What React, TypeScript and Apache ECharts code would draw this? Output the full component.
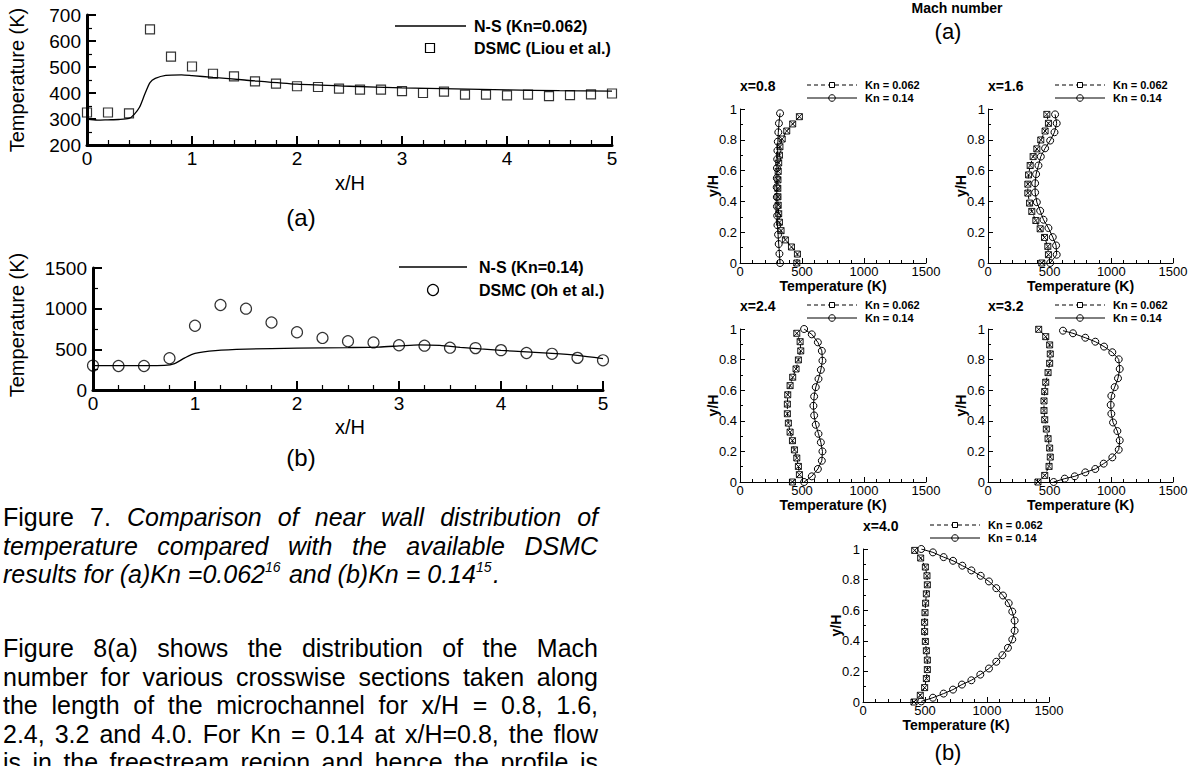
import React, { useEffect, useRef } from "react";
import * as echarts from "echarts";

const FONT = "'Liberation Sans', Arial, Helvetica, sans-serif";

// ---------- Figure 7(a): near-wall temperature, Kn = 0.062 ----------
const A_DSMC_X = [0, 0.2, 0.4, 0.6, 0.8, 1.0, 1.2, 1.4, 1.6, 1.8, 2.0, 2.2, 2.4, 2.6, 2.8, 3.0, 3.2, 3.4, 3.6, 3.8, 4.0, 4.2, 4.4, 4.6, 4.8, 5.0];
const A_DSMC_T = [325, 325, 322, 645, 540, 502, 474, 464, 445, 436, 426, 423, 417, 413, 413, 407, 400, 405, 394, 394, 391, 394, 388, 392, 395, 398];
const A_NS_X = [0, 0.1, 0.2, 0.3, 0.4, 0.45, 0.5, 0.55, 0.6, 0.65, 0.75, 0.9, 1.0, 1.2, 1.5, 2.0, 2.5, 3.0, 3.5, 4.0, 4.5, 5.0];
const A_NS_T = [300, 296, 297, 298, 302, 318, 345, 395, 440, 456, 468, 470, 467, 460, 450, 434, 426, 420, 416, 412, 409, 407];

// ---------- Figure 7(b): near-wall temperature, Kn = 0.14 ----------
const B_DSMC_X = [0, 0.25, 0.5, 0.75, 1.0, 1.25, 1.5, 1.75, 2.0, 2.25, 2.5, 2.75, 3.0, 3.25, 3.5, 3.75, 4.0, 4.25, 4.5, 4.75, 5.0];
const B_DSMC_T = [300, 295, 295, 390, 790, 1045, 1000, 830, 710, 640, 600, 585, 550, 545, 520, 515, 490, 455, 445, 395, 365];
const B_NS_X = [0, 0.5, 0.7, 0.8, 0.9, 1.0, 1.2, 1.5, 2.0, 2.5, 2.8, 3.0, 3.2, 3.4, 3.6, 3.8, 4.0, 4.25, 4.5, 4.75, 5.0];
const B_NS_T = [300, 300, 303, 325, 395, 450, 485, 503, 515, 522, 528, 542, 556, 548, 525, 505, 487, 468, 450, 425, 385];

// ---------- Figure 8(b): temperature profiles across the channel ----------
const P08_KN062_T = [458, 463, 415, 366, 331, 318, 312, 308, 306, 305, 306, 308, 312, 318, 322, 340, 377, 425, 479];
const P08_KN062_Y = [0, 0.058, 0.104, 0.15, 0.21, 0.265, 0.32, 0.375, 0.43, 0.485, 0.54, 0.595, 0.65, 0.7, 0.755, 0.805, 0.857, 0.903, 0.95];
const P08_KN014_T = [323, 318, 312, 307, 302, 300, 298, 297, 296, 297, 298, 300, 302, 305, 309, 314, 323];
const P08_KN014_Y = [0, 0.06, 0.123, 0.184, 0.246, 0.307, 0.367, 0.428, 0.492, 0.551, 0.616, 0.674, 0.73, 0.788, 0.849, 0.907, 0.972];

const P16_KN062_T = [436, 490, 485, 458, 423, 388, 355, 337, 323, 323, 329, 342, 366, 396, 428, 463, 490, 477];
const P16_KN062_Y = [0, 0.054, 0.108, 0.166, 0.222, 0.276, 0.335, 0.389, 0.454, 0.512, 0.572, 0.633, 0.691, 0.741, 0.799, 0.857, 0.907, 0.965];
const P16_KN014_T = [504, 557, 552, 525, 490, 450, 423, 396, 382, 382, 390, 409, 428, 463, 504, 539, 557, 544];
const P16_KN014_Y = [0, 0.054, 0.114, 0.168, 0.227, 0.281, 0.339, 0.395, 0.458, 0.518, 0.577, 0.633, 0.691, 0.745, 0.795, 0.849, 0.907, 0.965];

const P24_KN062_T = [423, 479, 471, 458, 439, 423, 404, 390, 382, 382, 385, 404, 425, 452, 471, 490, 485, 458];
const P24_KN062_Y = [0, 0.048, 0.102, 0.157, 0.21, 0.27, 0.326, 0.385, 0.446, 0.509, 0.57, 0.63, 0.685, 0.739, 0.798, 0.857, 0.917, 0.972];
const P24_KN014_T = [517, 579, 628, 660, 665, 652, 633, 611, 598, 592, 598, 611, 633, 652, 665, 660, 628, 579, 517];
const P24_KN014_Y = [0, 0.037, 0.085, 0.139, 0.2, 0.259, 0.315, 0.374, 0.435, 0.498, 0.559, 0.62, 0.674, 0.733, 0.793, 0.857, 0.913, 0.965, 1.0];

const P32_KN062_T = [405, 460, 495, 505, 500, 487, 473, 460, 454, 454, 460, 468, 487, 500, 505, 500, 468, 411];
const P32_KN062_Y = [0, 0.043, 0.102, 0.163, 0.222, 0.283, 0.346, 0.407, 0.467, 0.53, 0.591, 0.652, 0.715, 0.776, 0.837, 0.896, 0.95, 0.998];
const P32_KN014_T = [532, 622, 703, 789, 870, 938, 1008, 1060, 1068, 1049, 1014, 1000, 995, 1000, 1027, 1054, 1068, 1060, 1008, 941, 870, 789, 689, 608];
const P32_KN014_Y = [0, 0.022, 0.037, 0.063, 0.085, 0.12, 0.161, 0.211, 0.272, 0.333, 0.389, 0.446, 0.504, 0.563, 0.62, 0.678, 0.739, 0.802, 0.848, 0.885, 0.917, 0.943, 0.972, 0.989];

const P40_KN062_T = [411, 462, 497, 511, 519, 519, 511, 503, 497, 497, 500, 505, 511, 519, 516, 503, 465, 417];
const P40_KN062_Y = [0, 0.044, 0.094, 0.153, 0.212, 0.274, 0.335, 0.396, 0.46, 0.521, 0.584, 0.646, 0.707, 0.766, 0.825, 0.882, 0.941, 0.991];
const P40_KN014_T = [470, 564, 650, 726, 798, 874, 946, 1016, 1075, 1124, 1169, 1204, 1223, 1223, 1204, 1175, 1129, 1075, 1016, 949, 874, 801, 726, 650, 564, 470];
const P40_KN014_Y = [0.004, 0.028, 0.055, 0.081, 0.114, 0.142, 0.179, 0.219, 0.263, 0.306, 0.354, 0.409, 0.466, 0.532, 0.591, 0.646, 0.696, 0.744, 0.788, 0.825, 0.86, 0.891, 0.923, 0.947, 0.978, 1.0];

const PANEL_TITLES = ["x=0.8", "x=1.6", "x=2.4", "x=3.2", "x=4.0"];
const LEGEND_KN = ["Kn = 0.062", "Kn = 0.14"];

// ---------- page text ----------
type Seg = { t: string; it?: boolean; sup?: boolean };
const CAP_L1: Seg[] = [{ t: "Figure 7." }, { t: "Comparison of near wall distribution of", it: true }];
const CAP_L2: Seg[] = [{ t: "temperature compared with the available DSMC", it: true }];
const CAP_L3: Seg[] = [
  { t: "results for (a)Kn =0.062", it: true },
  { t: "16", it: true, sup: true },
  { t: " and (b)Kn = 0.14", it: true },
  { t: "15", it: true, sup: true },
  { t: ".", it: true },
];
const BODY_LINES = [
  "Figure 8(a) shows the distribution of the Mach",
  "number for various crosswise sections taken along",
  "the length of the microchannel for x/H = 0.8, 1.6,",
  "2.4, 3.2 and 4.0. For Kn = 0.14 at x/H=0.8, the flow",
  "is in the freestream region and hence the profile is",
];

const zip = (a: number[], b: number[]) => a.map((v, i) => [v, b[i]]);
const plain = (v: number) => String(v);
const HATCHED_SQUARE = "path://M0 0H10V10H0Z M0 0L10 10 M10 0L0 10";

function txt(text: string, x: number, y: number, o: any = {}) {
  const align = o.align || "left";
  const va = o.va || "middle";
  return {
    type: "text",
    x,
    y,
    z: 20,
    silent: true,
    rotation: o.rot || 0,
    style: {
      text,
      fill: "#000",
      fontFamily: FONT,
      fontSize: o.size || 14,
      fontWeight: o.bold ? "bold" : "normal",
      fontStyle: o.it ? "italic" : "normal",
      textAlign: align,
      textVerticalAlign: va,
      align,
      verticalAlign: va,
    },
  };
}

function buildOption() {
  const ctx = document.createElement("canvas").getContext("2d")!;
  const measure = (s: string, it: boolean | undefined, size: number, bold = false) => {
    ctx.font = `${it ? "italic " : ""}${bold ? "bold " : ""}${size}px ${FONT}`;
    return ctx.measureText(s).width;
  };

  const grids: any[] = [];
  const xAxes: any[] = [];
  const yAxes: any[] = [];
  const series: any[] = [];
  const graphics: any[] = [];

  // ----- left big plots -----
  const bigAxisCommon = (fs: number) => ({
    type: "value",
    axisLine: { onZero: false, lineStyle: { color: "#000", width: 3 } },
    axisTick: { inside: true, length: 9, lineStyle: { color: "#000", width: 2 } },
    splitLine: { show: false },
    minorSplitLine: { show: false },
    axisLabel: { color: "#000", fontSize: fs, fontFamily: FONT, formatter: plain },
  });

  const bigPlots = [
    { left: 87, top: 15, w: 525, h: 130, ymin: 200, ymax: 700, yint: 100, xminor: 5, yminor: 2 },
    { left: 93, top: 268, w: 510, h: 122, ymin: 0, ymax: 1500, yint: 500, xminor: 4, yminor: 2 },
  ];
  bigPlots.forEach((p, i) => {
    grids.push({ left: p.left, top: p.top, width: p.w, height: p.h, outerBoundsMode: "none" });
    const c = bigAxisCommon(19);
    xAxes.push({
      ...c,
      gridIndex: i,
      min: 0,
      max: 5,
      interval: 1,
      minorTick: { show: true, splitNumber: p.xminor, length: 5, lineStyle: { color: "#000", width: 1.2 } },
      axisLabel: { ...c.axisLabel, margin: 4 },
    });
    yAxes.push({
      ...c,
      gridIndex: i,
      min: p.ymin,
      max: p.ymax,
      interval: p.yint,
      minorTick: { show: true, splitNumber: p.yminor, length: 5, lineStyle: { color: "#000", width: 1.2 } },
      axisLabel: { ...c.axisLabel, margin: 6 },
    });
  });

  series.push({
    type: "line", xAxisIndex: 0, yAxisIndex: 0, data: zip(A_NS_X, A_NS_T), smooth: 0.25, symbol: "none",
    lineStyle: { color: "#000", width: 1.3 }, silent: true, z: 2,
  });
  series.push({
    type: "scatter", xAxisIndex: 0, yAxisIndex: 0, data: zip(A_DSMC_X, A_DSMC_T), symbol: "rect", symbolSize: 9,
    itemStyle: { color: "rgba(0,0,0,0)", borderColor: "#000", borderWidth: 1.2 }, silent: true, z: 3,
  });
  series.push({
    type: "line", xAxisIndex: 1, yAxisIndex: 1, data: zip(B_NS_X, B_NS_T), smooth: 0.25, symbol: "none",
    lineStyle: { color: "#000", width: 1.3 }, silent: true, z: 2,
  });
  series.push({
    type: "scatter", xAxisIndex: 1, yAxisIndex: 1, data: zip(B_DSMC_X, B_DSMC_T), symbol: "circle", symbolSize: 11,
    itemStyle: { color: "rgba(0,0,0,0)", borderColor: "#000", borderWidth: 1.2 }, silent: true, z: 3,
  });

  // left plot labels
  graphics.push(txt("Temperature (K)", 17, 80, { size: 20, align: "center", rot: Math.PI / 2 }));
  graphics.push(txt("Temperature (K)", 17, 325, { size: 20, align: "center", rot: Math.PI / 2 }));
  graphics.push(txt("x/H", 350, 183, { size: 20, align: "center" }));
  graphics.push(txt("x/H", 350, 427, { size: 20, align: "center" }));
  graphics.push(txt("(a)", 301, 217, { size: 24, align: "center" }));
  graphics.push(txt("(b)", 301, 457, { size: 24, align: "center" }));

  // left legends
  graphics.push({ type: "line", z: 20, silent: true, shape: { x1: 395, y1: 26, x2: 466, y2: 26 }, style: { stroke: "#000", lineWidth: 1.3 } });
  graphics.push(txt("N-S (Kn=0.062)", 474, 26, { size: 16, bold: true }));
  graphics.push({ type: "rect", z: 20, silent: true, shape: { x: 425.5, y: 43.5, width: 9, height: 9 }, style: { fill: "none", stroke: "#000", lineWidth: 1.2 } });
  graphics.push(txt("DSMC (Liou et al.)", 474, 48, { size: 16, bold: true }));

  graphics.push({ type: "line", z: 20, silent: true, shape: { x1: 399, y1: 267, x2: 467, y2: 267 }, style: { stroke: "#000", lineWidth: 1.3 } });
  graphics.push(txt("N-S (Kn=0.14)", 479, 267, { size: 16, bold: true }));
  graphics.push({ type: "circle", z: 20, silent: true, shape: { cx: 433, cy: 290, r: 5.5 }, style: { fill: "none", stroke: "#000", lineWidth: 1.2 } });
  graphics.push(txt("DSMC (Oh et al.)", 479, 290, { size: 16, bold: true }));

  // ----- right small plots -----
  const panels = [
    { left: 740, top: 109, w: 186, h: 154, t62: P08_KN062_T, y62: P08_KN062_Y, t14: P08_KN014_T, y14: P08_KN014_Y },
    { left: 988, top: 109, w: 185, h: 154, t62: P16_KN062_T, y62: P16_KN062_Y, t14: P16_KN014_T, y14: P16_KN014_Y },
    { left: 740, top: 329, w: 186, h: 153, t62: P24_KN062_T, y62: P24_KN062_Y, t14: P24_KN014_T, y14: P24_KN014_Y },
    { left: 988, top: 329, w: 185, h: 153, t62: P32_KN062_T, y62: P32_KN062_Y, t14: P32_KN014_T, y14: P32_KN014_Y },
    { left: 863, top: 549, w: 186, h: 153, t62: P40_KN062_T, y62: P40_KN062_Y, t14: P40_KN014_T, y14: P40_KN014_Y },
  ];
  const smallAxis = {
    type: "value",
    axisLine: { onZero: false, lineStyle: { color: "#000", width: 1 } },
    axisTick: { inside: true, length: 5, lineStyle: { color: "#000", width: 1 } },
    splitLine: { show: false },
    minorSplitLine: { show: false },
    axisLabel: { color: "#000", fontSize: 13, fontFamily: FONT, formatter: plain },
  };
  panels.forEach((p, k) => {
    const gi = k + 2;
    grids.push({ left: p.left, top: p.top, width: p.w, height: p.h, outerBoundsMode: "none" });
    xAxes.push({
      ...smallAxis,
      gridIndex: gi,
      min: 0,
      max: 1500,
      interval: 500,
      minorTick: { show: true, splitNumber: 5, length: 3, lineStyle: { color: "#000", width: 1 } },
      axisLabel: { ...smallAxis.axisLabel, margin: 2 },
    });
    yAxes.push({
      ...smallAxis,
      gridIndex: gi,
      min: 0,
      max: 1,
      interval: 0.2,
      minorTick: { show: true, splitNumber: 2, length: 3, lineStyle: { color: "#000", width: 1 } },
      axisLabel: { ...smallAxis.axisLabel, margin: 3 },
    });
    series.push({
      type: "line", xAxisIndex: gi, yAxisIndex: gi, data: zip(p.t62, p.y62), symbol: HATCHED_SQUARE, symbolSize: 6,
      showAllSymbol: true, silent: true, z: 3,
      lineStyle: { color: "#000", width: 1, type: [4, 3] },
      itemStyle: { color: "rgba(0,0,0,0)", borderColor: "#000", borderWidth: 0.9 },
    });
    series.push({
      type: "line", xAxisIndex: gi, yAxisIndex: gi, data: zip(p.t14, p.y14), symbol: "circle", symbolSize: 7,
      showAllSymbol: true, silent: true, z: 3,
      lineStyle: { color: "#000", width: 1 },
      itemStyle: { color: "rgba(0,0,0,0)", borderColor: "#000", borderWidth: 1 },
    });

    const L = p.left;
    const T = p.top;
    graphics.push(txt(PANEL_TITLES[k], L, T - 23, { size: 14, bold: true }));
    graphics.push({ type: "line", z: 20, silent: true, shape: { x1: L + 67, y1: T - 24, x2: L + 117, y2: T - 24 }, style: { stroke: "#000", lineWidth: 1, lineDash: [4, 3] } });
    graphics.push({ type: "rect", z: 21, silent: true, shape: { x: L + 89.5, y: T - 26.5, width: 5, height: 5 }, style: { fill: "#fff", stroke: "#000", lineWidth: 1 } });
    graphics.push(txt(LEGEND_KN[0], L + 125, T - 24, { size: 11, bold: true }));
    graphics.push({ type: "line", z: 20, silent: true, shape: { x1: L + 67, y1: T - 11, x2: L + 117, y2: T - 11 }, style: { stroke: "#000", lineWidth: 1 } });
    graphics.push({ type: "circle", z: 21, silent: true, shape: { cx: L + 92, cy: T - 11, r: 3.3 }, style: { fill: "none", stroke: "#000", lineWidth: 1 } });
    graphics.push(txt(LEGEND_KN[1], L + 125, T - 11, { size: 11, bold: true }));
    graphics.push(txt("Temperature (K)", L + p.w / 2, T + p.h + 23, { size: 14, bold: true, align: "center" }));
    graphics.push(txt("y/H", L - 27, T + p.h / 2, { size: 14, bold: true, align: "center", rot: Math.PI / 2 }));
  });

  graphics.push(txt("Mach number", 957, 8, { size: 14, bold: true, align: "center" }));
  graphics.push(txt("(a)", 948, 31, { size: 22, align: "center" }));
  graphics.push(txt("(b)", 948, 752, { size: 22, align: "center" }));

  // ----- text paragraphs -----
  const TEXT_LEFT = 3;
  const TEXT_RIGHT = 598;
  const FS = 25;
  const justify = (segs: Seg[], y: number) => {
    const words: { t: string; it?: boolean }[] = [];
    segs.forEach((s) => s.t.split(" ").filter((w) => w).forEach((w) => words.push({ t: w, it: s.it })));
    const widths = words.map((w) => measure(w.t, w.it, FS));
    const total = widths.reduce((a, b) => a + b, 0);
    const gap = (TEXT_RIGHT - TEXT_LEFT - total) / (words.length - 1);
    let x = TEXT_LEFT;
    words.forEach((w, i) => {
      graphics.push(txt(w.t, x, y, { size: FS, it: w.it }));
      x += widths[i] + gap;
    });
  };
  const flow = (segs: Seg[], y: number) => {
    let x = TEXT_LEFT;
    segs.forEach((s) => {
      const size = s.sup ? 14 : FS;
      let t = s.t;
      while (t.startsWith(" ")) {
        x += measure(" ", s.it, size);
        t = t.slice(1);
      }
      graphics.push(txt(t, x, s.sup ? y - 7 : y, { size, it: s.it }));
      x += measure(t, s.it, size) + (s.sup ? 1.5 : 0);
    });
  };
  const LH = 28.5;
  justify(CAP_L1, 517);
  justify(CAP_L2, 517 + LH);
  flow(CAP_L3, 517 + 2 * LH);
  BODY_LINES.forEach((line, i) => justify([{ t: line }], 762 - (BODY_LINES.length - 1 - i) * LH));

  return {
    animation: false,
    backgroundColor: "#fff",
    grid: grids,
    xAxis: xAxes,
    yAxis: yAxes,
    series,
    graphic: { elements: graphics },
  };
}

export default function App() {
  const ref = useRef<HTMLDivElement>(null);
  useEffect(() => {
    document.body.style.margin = "0";
    const chart = echarts.init(ref.current!, null, { renderer: "svg" });
    chart.setOption(buildOption() as any);
    return () => chart.dispose();
  }, []);
  return <div ref={ref} style={{ width: 1188, height: 766, background: "#fff" }} />;
}
